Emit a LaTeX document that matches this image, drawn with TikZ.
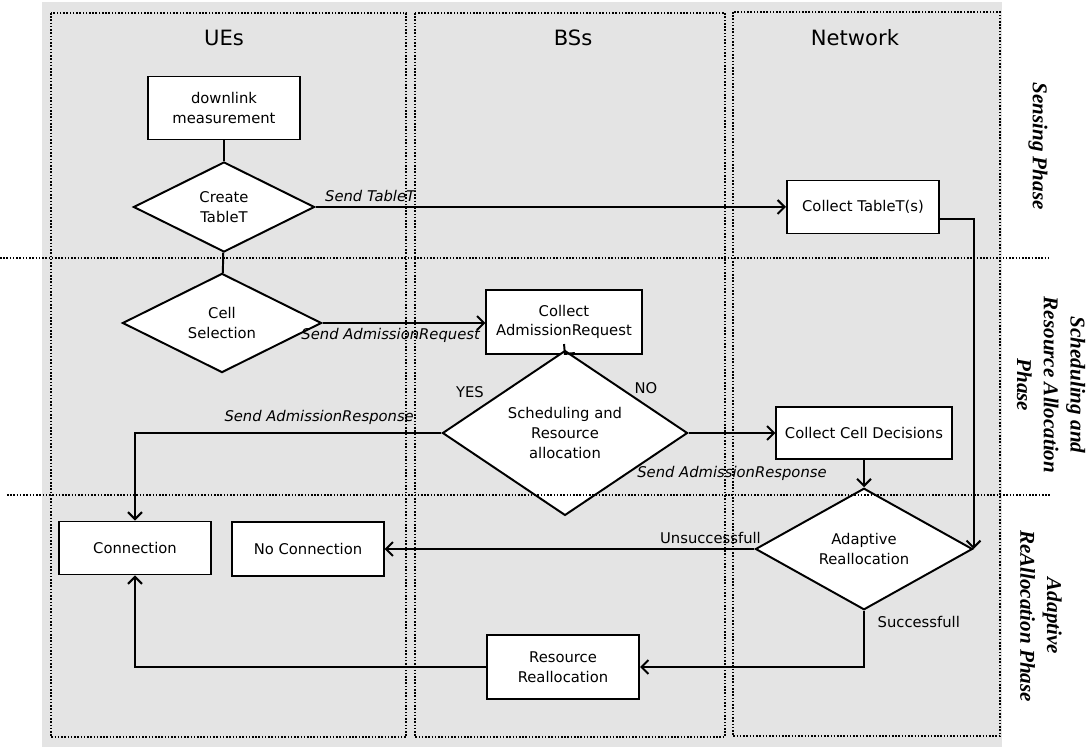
\documentclass[tikz,border=0pt]{standalone}
\usepackage{fontspec}
\setmainfont{DejaVu Sans}
\newfontfamily\phasefont{Liberation Serif}
\usetikzlibrary{shapes.geometric,arrows.meta}
\definecolor{lanegray}{RGB}{228,228,228}

\begin{document}
\begin{tikzpicture}[x=0.025cm,y=-0.025cm,
  every node/.style={font=\fontsize{10.5}{14}\selectfont},
  box/.style={draw,fill=white,line width=1.4pt,align=center,inner sep=2pt},
  decide/.style={diamond,draw,fill=white,line width=1.4pt,align=center,inner sep=0pt},
  flow/.style={line width=1.4pt},
  arr/.style={flow,-{Straight Barb[length=5pt,width=10pt]}},
  msg/.style={font=\fontsize{10.5}{14}\selectfont\itshape},
  lane/.style={line width=1.1pt,dash pattern=on 1.1pt off 1.2pt},
  title/.style={font=\fontsize{15}{16}\selectfont},
  phase/.style={font=\fontsize{15}{19}\selectfont\phasefont\bfseries\itshape,rotate=-90,align=center}]

  \useasboundingbox (0,0) rectangle (1088,748);

% grey background
  \fill[lanegray] (42,2) rectangle (1002,747);

% lane titles
  \node[title] (ueT)  at (224,38) {UEs};
  \node[title] (bsT)  at (573,38) {BSs};
  \node[title] (netT) at (855,38) {Network};

% sensing phase
  \node[box,minimum width=3.8cm,minimum height=1.575cm] (dlm) at (224,108) {downlink\\measurement};
  \node[decide,minimum width=4.525cm,minimum height=2.25cm] (create) at (224,207) {Create\\TableT};
  \node[box,minimum width=3.8cm,minimum height=1.325cm] (ctt) at (863,207) {Collect TableT(s)};

% scheduling and resource allocation phase
  \node[decide,minimum width=4.975cm,minimum height=2.45cm] (cellsel) at (222,323) {Cell\\Selection};
  \node[box,minimum width=3.875cm,minimum height=1.6cm] (car) at (564,322) {Collect\\AdmissionRequest};
  \node[decide,minimum width=6.125cm,minimum height=3.975cm] (sched) at (565,433) {Scheduling and\\Resource\\allocation};
  \node[box,minimum width=4.375cm,minimum height=1.3cm] (ccd) at (864,433) {Collect Cell Decisions};
  \node (yes) at (470,392) {YES};
  \node (no)  at (646,388) {NO};

% adaptive reallocation phase
  \node[box,minimum width=3.8cm,minimum height=1.325cm] (conn) at (135,548) {Connection};
  \node[box,minimum width=3.775cm,minimum height=1.35cm] (noconn) at (308,549) {No Connection};
  \node[decide,minimum width=5.425cm,minimum height=2.7cm] (adapt) at (864,549) {Adaptive\\Reallocation};
  \node[box,minimum width=3.8cm,minimum height=1.6cm] (rr) at (563,667) {Resource\\Reallocation};

% connectors
  \draw[flow] (dlm) -- (create);
  \draw[flow] (create) -- (cellsel);
  \draw[arr] (create.east) -- (ctt.west) node[msg,above right,pos=0,xshift=0.1cm] {Send TableT};
  \draw[arr] ([yshift=-0.3cm]ctt.east) -| (adapt.east);
  \draw[arr] (cellsel.east) -- (cellsel.east -| car.west) node[msg,below left,pos=1] {Send AdmissionRequest};
  \draw[arr] ([yshift=-3pt]sched.north) -- (car.south);
  \draw[arr] (sched.west) -| (conn.north) node[msg,above left,pos=0,xshift=-0.55cm,yshift=2pt] {Send AdmissionResponse};
  \draw[arr] (sched.east) -- (ccd.west) node[msg,pos=0.5,below=0.7cm] {Send AdmissionResponse};
  \draw[arr] (ccd.south) -- (adapt.north);
  \draw[arr] (adapt.west) -- (noconn.east) node[above left,pos=0,xshift=0.3cm] {Unsuccessfull};
  \draw[arr] (adapt.south) |- (rr.east) node[right,pos=0.1,xshift=0.2cm] {Successfull};
  \draw[arr] (rr.west) -| (conn.south);

% lanes and phase borders
  \draw[lane] (51,13) rectangle (406,737);
  \draw[lane] (415,13) rectangle (725,737);
  \draw[lane] (733,12) rectangle (1000,736);
  \draw[lane] (0,258) -- (1048,258);
  \draw[lane] (7,495) -- (1050,495);

% phase labels at right
  \node[phase] (senseP) at (1038,146) {Sensing Phase};
  \node[phase] (schedP) at (1051,385) {Scheduling and\\Resource Allocation\\Phase};
  \node[phase] (adaptP) at (1041,616) {Adaptive\\ReAllocation Phase};

\end{tikzpicture}
\end{document}
